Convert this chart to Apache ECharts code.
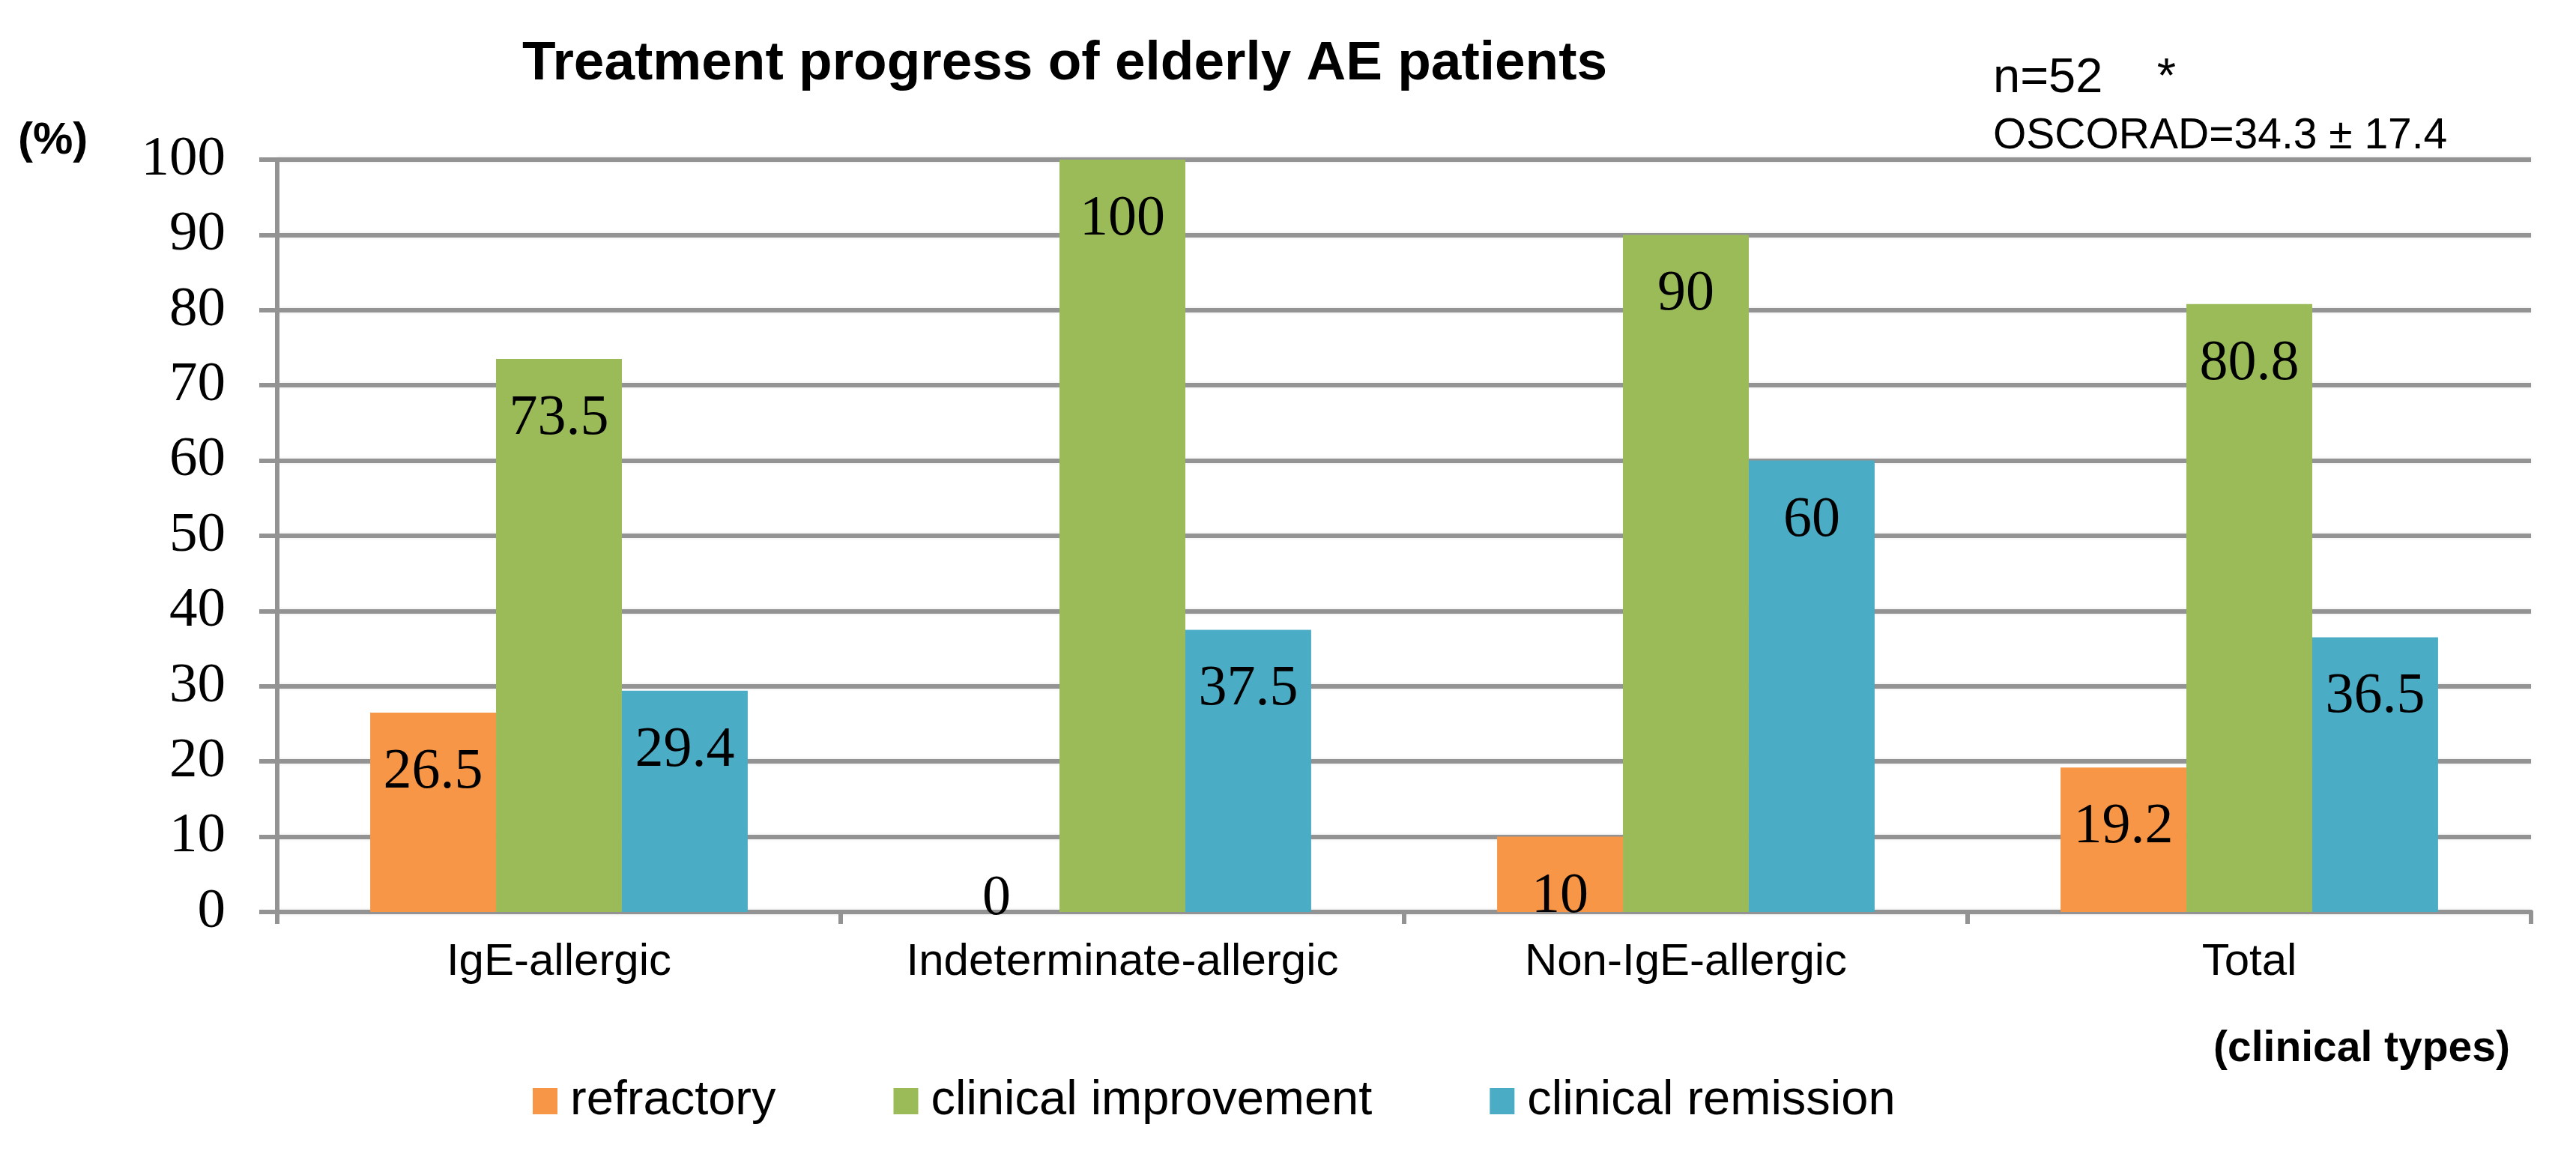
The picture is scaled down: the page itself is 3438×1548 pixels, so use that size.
<!DOCTYPE html>
<html>
<head>
<meta charset="utf-8">
<script src="https://cdn.jsdelivr.net/npm/echarts@6/dist/echarts.min.js"></script>
<style>
html,body{margin:0;padding:0;background:#fff;}
#chart{width:3438px;height:1548px;}
</style>
</head>
<body>
<div id="chart"></div>
<script>
var categories = ['IgE-allergic', 'Indeterminate-allergic', 'Non-IgE-allergic', 'Total'];
var seriesNames = ['refractory', 'clinical improvement', 'clinical remission'];
var refractory = [26.5, 0, 10, 19.2];
var improvement = [73.5, 100, 90, 80.8];
var remission = [29.4, 37.5, 60, 36.5];
var yTicks = [0, 10, 20, 30, 40, 50, 60, 70, 80, 90, 100];
var colors = ['#F79646', '#9BBB59', '#4BACC6'];

var chart = echarts.init(document.getElementById('chart'));
var gridColor = '#939393';
var SANS = 'Liberation Sans, Arial, sans-serif';
var SERIF = 'Liberation Serif, Times New Roman, serif';

function makeData(arr) {
  return arr.map(function (v) {
    if (v === 0) {
      return { value: v, label: { position: 'inside', offset: [0, -17] } };
    }
    return v;
  });
}

function makeSeries(name, arr, color) {
  return {
    name: name,
    type: 'bar',
    data: makeData(arr),
    barGap: '0%',
    barCategoryGap: '33%',
    itemStyle: { color: color },
    label: {
      show: true,
      position: 'insideTop',
      distance: 42,
      fontFamily: SERIF,
      fontSize: 76,
      lineHeight: 76,
      color: '#000'
    }
  };
}

var option = {
  backgroundColor: '#fff',
  animation: false,
  color: colors,
  title: {
    text: 'Treatment progress of elderly AE patients',
    left: 1416,
    top: 44,
    textAlign: 'center',
    textStyle: { fontFamily: SANS, fontWeight: 'bold', fontSize: 73, lineHeight: 73, color: '#000' }
  },
  graphic: [
    { type: 'text', left: 24, top: 158, style: { text: '(%)', font: 'bold 60px ' + SANS, fill: '#000' } },
    { type: 'text', left: 2660, top: 73, style: { text: 'n=52    *', font: '65px ' + SANS, fill: '#000' } },
    { type: 'text', left: 2660, top: 154, style: { text: 'OSCORAD=34.3 \u00b1 17.4', font: '57px ' + SANS, fill: '#000' } },
    { type: 'text', right: 88, top: 1372, style: { text: '(clinical types)', font: 'bold 57px ' + SANS, fill: '#000' } }
  ],
  legend: {
    data: seriesNames,
    left: 706,
    top: 1432,
    icon: 'rect',
    itemWidth: 33,
    itemHeight: 35,
    itemGap: 157,
    textStyle: { fontFamily: SANS, fontSize: 65, lineHeight: 65, color: '#000', padding: [0, 0, 0, 12] }
  },
  grid: { left: 370, right: 60, top: 213, bottom: 331, containLabel: false },
  xAxis: {
    type: 'category',
    data: categories,
    axisLine: { show: true, lineStyle: { color: gridColor, width: 6 } },
    axisTick: { show: true, length: 16, interval: 0, lineStyle: { color: gridColor, width: 6 } },
    axisLabel: { margin: 37, fontFamily: SANS, fontSize: 60, lineHeight: 60, color: '#000', interval: 0 }
  },
  yAxis: {
    type: 'value',
    min: yTicks[0],
    max: yTicks[yTicks.length - 1],
    interval: yTicks[1] - yTicks[0],
    axisLine: { show: true, lineStyle: { color: gridColor, width: 6 } },
    axisTick: { show: true, length: 24, lineStyle: { color: gridColor, width: 6 } },
    axisLabel: { margin: 69, fontFamily: SERIF, fontSize: 75, color: '#000' },
    splitLine: { show: true, lineStyle: { color: gridColor, width: 6, shadowColor: 'rgba(0,0,0,0.10)', shadowBlur: 4 } }
  },
  series: [
    makeSeries(seriesNames[0], refractory, colors[0]),
    makeSeries(seriesNames[1], improvement, colors[1]),
    makeSeries(seriesNames[2], remission, colors[2])
  ]
};
chart.setOption(option);
</script>
</body>
</html>
